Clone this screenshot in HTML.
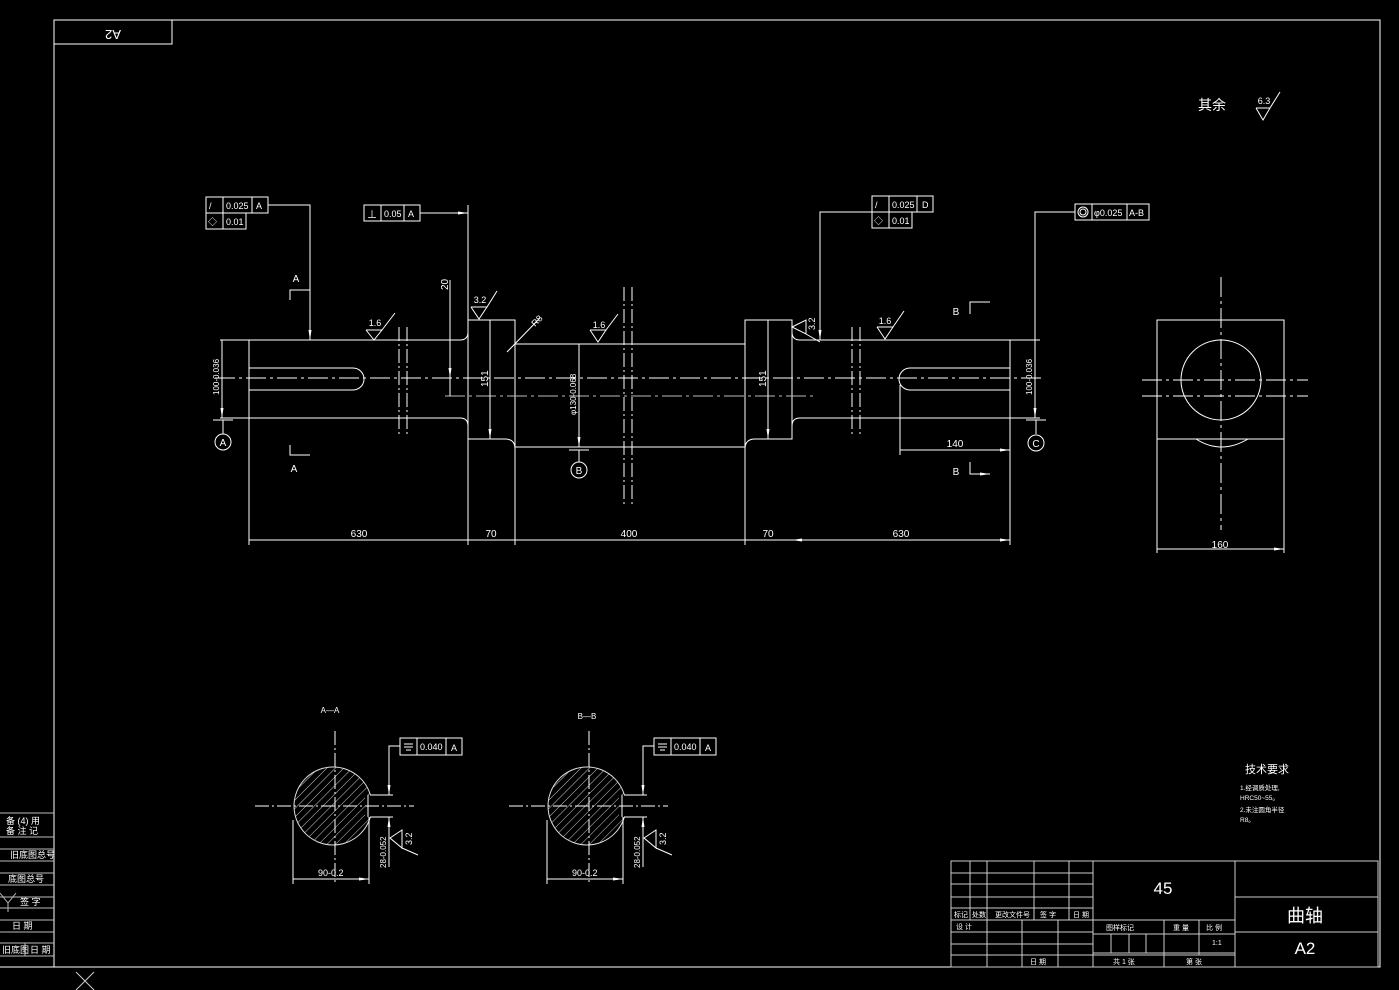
<!DOCTYPE html>
<html><head><meta charset="utf-8"><style>
html,body{margin:0;padding:0;background:#000;}
svg{display:block}
text{font-family:"Liberation Sans","Noto Sans CJK SC",sans-serif;fill:#fff;}
</style></head><body>
<svg width="1399" height="990" viewBox="0 0 1399 990" xmlns="http://www.w3.org/2000/svg">
<defs>
<marker id="ar" markerWidth="10" markerHeight="6" refX="10" refY="3" orient="auto" markerUnits="userSpaceOnUse"><path d="M0,1.5 L10,3 L0,4.5z" fill="#fff"/></marker>
<pattern id="hatch" width="6" height="6" patternUnits="userSpaceOnUse" patternTransform="rotate(45)"><line x1="0" y1="0" x2="0" y2="6" stroke="#ccc" stroke-width="1"/></pattern>
</defs>
<g stroke="#fff" stroke-width="1" fill="none">
<!-- frame -->
<path d="M54,20 H1380 V967 H0 M54,20 V967"/>
<rect x="54" y="20" width="118" height="24"/>
<!-- left strip -->
<path d="M0,813 H54 M0,837 H54 M0,849 H54 M0,861 H54 M0,873 H54 M0,885 H54 M0,897 H54 M0,908 H54 M0,920 H54 M0,932 H54 M0,943 H54 M0,956 H54 M25,943 V956" stroke="#bbb"/>
<path d="M0,893 L8,903 L16,893 M8,903 V912" stroke="#bbb"/>
<path d="M76,972 L94,990 M94,972 L76,990" stroke="#ccc"/>
</g>
<g font-size="9" fill="#fff">
<text x="6" y="824">备 (4) 用</text><text x="6" y="834">备 注 记</text>
<text x="10" y="858">旧底图总号</text><text x="8" y="882">底图总号</text>
<text x="20" y="905">签  字</text><text x="12" y="929">日    期</text>
<text x="2" y="953">旧底图</text><text x="30" y="953">日 期</text>
</g>
<text x="113" y="40" font-size="13" transform="rotate(180 113 35)" text-anchor="middle">A2</text>

<!-- main shaft -->
<g stroke="#fff" stroke-width="1" fill="none">
<path d="M220,340 H460 Q468,340 468,332 M220,418 H460 Q468,418 468,426"/>
<path d="M249,340 V545"/>
<path d="M249,368 H353 A11,11 0 0 1 353,390 H249"/>
<path d="M468,205 V545"/>
<path d="M468,320 H515 V545 M468,439 H505 Q515,439 515,449"/>
<path d="M515,344 H745 M515,447 H745"/>
<path d="M745,545 V320 H792 V439 H755 Q745,439 745,449 M745,320 V545"/>
<path d="M792,332 Q792,340 800,340 H1040 M792,426 Q792,418 800,418 H1040"/>
<path d="M1010,340 V545"/>
<path d="M1010,368 H910 A11,11 0 0 0 910,390 H1010"/>
<path d="M900,385 V455"/>
<!-- breaks -->
<path d="M399,327 V437 M407,327 V437 M852,327 V437 M860,327 V437 M624,287 V505 M632,287 V505" stroke-dasharray="14,3,2,3"/>
<!-- centerlines -->
<path d="M215,378 H1045" stroke-dasharray="20,4,3,4"/>
<path d="M445,396 H815" stroke-dasharray="20,4,3,4" stroke="#bbb"/>
<!-- dims -->
<path d="M249,540 H468 M468,540 H515 M515,540 H745 M745,540 H792 M792,540 H1010" marker-end="url(#ar)"/>
<path d="M468,540 H249 M515,540 H468 M745,540 H515 M792,540 H745 M1010,540 H792" marker-end="url(#ar)"/>
<path d="M222,379 V340 M222,379 V418" marker-end="url(#ar)"/>
<path d="M1035,379 V340 M1035,379 V418" marker-end="url(#ar)"/>
<path d="M579,396 V344 M579,396 V447" marker-end="url(#ar)"/>
<path d="M490,380 V320 M490,380 V439" marker-end="url(#ar)"/>
<path d="M768,380 V320 M768,380 V439" marker-end="url(#ar)"/>
<path d="M955,450 H900 M955,450 H1010" marker-end="url(#ar)"/>
<path d="M450,280 V395 M450,350 V396" />
<path d="M450,365 V378" marker-end="url(#ar)"/>
<!-- datums -->
<path d="M213,420 H233 M223,420 V434 M1026,420 H1046 M1036,420 V434 M569,450 H589 M579,450 V462"/>
<circle cx="223" cy="442" r="8"/><circle cx="1036" cy="443" r="8"/><circle cx="579" cy="470" r="8"/>
<!-- section marks -->
<path d="M290,300 V290 H298 M290,445 V455 H298 M970,314 V302 H978 M970,462 V474 H978"/>
<path d="M298,290 H310 M298,455 H310 M978,302 H990 M978,474 H990" marker-end="url(#ar)"/>
<!-- FCFs -->
<rect x="206" y="197" width="62" height="16"/><path d="M223,197 V229 M252,197 V213 M206,213 V229 H246 V213"/>
<path d="M268,205 H310 V340" /><path d="M310,320 V340" marker-end="url(#ar)"/>
<rect x="364" y="205" width="56" height="16"/><path d="M381,205 V221 M404,205 V221"/>
<path d="M420,213 H468" marker-end="url(#ar)"/>
<rect x="872" y="196" width="61" height="16"/><path d="M889,196 V228 M917,196 V212 M872,212 V228 H912 V212"/>
<path d="M872,212 H820 V340"/><path d="M820,325 V340" marker-end="url(#ar)"/>
<rect x="1075" y="204" width="74" height="16"/><path d="M1092,204 V220 M1127,204 V220"/>
<circle cx="1083" cy="212" r="5"/><circle cx="1083" cy="212" r="3"/>
<path d="M1075,212 H1035 V340"/>
<!-- roughness -->
<path d="M366,330 L374,340 L382,330 H366 M382,330 L395,313"/>
<path d="M590,330 L598,342 L606,330 H590 M606,330 L618,314"/>
<path d="M877,327 L885,339 L893,327 H877 M893,327 L904,311"/>
<path d="M471,307 L479,319 L487,307 H471 M487,307 L497,291"/>
<path d="M792,327 L806,320 L806,334 Z M806,334 L820,342"/>
<path d="M507,352 L540,318"/>
<path d="M1256,108 L1263,120 L1270,108 H1256 M1270,108 L1280,92"/>
<!-- side view -->
<rect x="1157" y="320" width="127" height="119"/>
<path d="M1157,439 V553 M1284,439 V553"/>
<circle cx="1221" cy="380" r="40"/>
<path d="M1196,439 Q1221,455 1248,439"/>
<path d="M1142,380 H1308 M1142,396 H1308" stroke-dasharray="20,4,3,4"/>
<path d="M1221,277 V530" stroke-dasharray="20,4,3,4"/>
<path d="M1220,549 H1157 M1220,549 H1284" marker-end="url(#ar)"/>
</g>
<g font-size="10">
<text x="359" y="537" text-anchor="middle">630</text><text x="491" y="537" text-anchor="middle">70</text>
<text x="629" y="537" text-anchor="middle">400</text><text x="768" y="537" text-anchor="middle">70</text>
<text x="901" y="537" text-anchor="middle">630</text><text x="955" y="447" text-anchor="middle">140</text>
<text x="1220" y="548" text-anchor="middle">160</text>
<text x="296" y="282" text-anchor="middle">A</text><text x="294" y="472" text-anchor="middle">A</text>
<text x="956" y="315" text-anchor="middle">B</text><text x="956" y="475" text-anchor="middle">B</text>
<text x="223" y="446" text-anchor="middle">A</text><text x="1036" y="447" text-anchor="middle">C</text><text x="579" y="474" text-anchor="middle">B</text>
<text x="226" y="209" font-size="9">0.025</text><text x="256" y="209" font-size="9">A</text><text x="226" y="225" font-size="9">0.01</text>
<text x="209" y="209" font-size="9">/</text><text x="208" y="225" font-size="9">◇</text>
<text x="384" y="217" font-size="9">0.05</text><text x="408" y="217" font-size="9">A</text><text x="367" y="218">⊥</text>
<text x="892" y="208" font-size="9">0.025</text><text x="922" y="208" font-size="9">D</text><text x="892" y="224" font-size="9">0.01</text>
<text x="875" y="208" font-size="9">/</text><text x="874" y="224" font-size="9">◇</text>
<text x="1094" y="216" font-size="9">φ0.025</text><text x="1129" y="216" font-size="9">A-B</text>
<text x="375" y="326" font-size="9" text-anchor="middle">1.6</text><text x="599" y="328" font-size="9" text-anchor="middle">1.6</text>
<text x="885" y="324" font-size="9" text-anchor="middle">1.6</text><text x="480" y="303" font-size="9" text-anchor="middle">3.2</text>
<text x="1264" y="104" font-size="9" text-anchor="middle">6.3</text>
<text transform="translate(815,330) rotate(-90)" font-size="9">3.2</text>
<text transform="translate(535,327) rotate(-45)" font-size="9">R8</text>
<text transform="translate(219,395) rotate(-90)" font-size="8">100-0.036</text>
<text transform="translate(1032,395) rotate(-90)" font-size="8">100-0.036</text>
<text transform="translate(576,415) rotate(-90)" font-size="8">φ130-0.068</text>
<text transform="translate(488,387) rotate(-90)" font-size="10">151</text>
<text transform="translate(766,387) rotate(-90)" font-size="10">151</text>
<text transform="translate(448,290) rotate(-90)" font-size="10">20</text>
<text x="1198" y="110" font-size="14">其余</text>
<text x="1245" y="773" font-size="11">技术要求</text>
<g font-size="6.5" fill="#ccc"><text x="1240" y="790">1.经调质处理,</text><text x="1240" y="800">HRC50~55。</text><text x="1240" y="812">2.未注圆角半径</text><text x="1240" y="822">R8。</text></g>
</g>

<!-- sections -->
<g id="secA">
<circle cx="333" cy="806" r="39" fill="url(#hatch)" stroke="#ddd"/>
<rect x="365" y="795" width="28" height="22" fill="#000"/>
<g stroke="#fff" fill="none">
<path d="M370,795 H393 M370,817 H393 M368,795 V817"/>
<path d="M255,806 H414 M335,731 V882" stroke-dasharray="14,3,2,3"/>
<path d="M293,820 V884 M369,817 V884"/>
<path d="M331,879 H293 M331,879 H369" marker-end="url(#ar)"/>
<rect x="400" y="738" width="62" height="17"/><path d="M417,738 V755 M446,738 V755 M404,744 H413 M404,747 H413 M406,750 H411"/>
<path d="M400,746 H389 V795" marker-end="url(#ar)"/><path d="M389,840 V817" marker-end="url(#ar)"/>
<path d="M389,817 V867 M390,838 L402,830 V848 Z M402,848 L418,855"/>
</g>
<text x="420" y="750" font-size="9">0.040</text><text x="451" y="751" font-size="9">A</text>
<text x="318" y="876" font-size="9">90-0.2</text>
<text transform="translate(386,868) rotate(-90)" font-size="8">28-0.052</text>
<text transform="translate(412,845) rotate(-90)" font-size="9">3.2</text>
</g>
<text x="330" y="713" font-size="8" text-anchor="middle">A—A</text>
<use href="#secA" x="254" y="0"/>
<text x="587" y="719" font-size="8" text-anchor="middle">B—B</text>

<!-- title block -->
<g stroke="#ccc" fill="none">
<rect x="951" y="861" width="427" height="106"/>
<path d="M951,873 H1093 M951,884 H1093 M951,897 H1093 M951,908 H1093 M951,920 H1235 M951,932 H1093 M951,944 H1093 M951,955 H1235"/>
<path d="M970,861 V920 M1034,861 V920 M1069,861 V920 M987,861 V967 M1022,920 V967 M1058,920 V967 M1093,861 V967 M1235,861 V967"/>
<path d="M1093,934 H1235 M1164,920 V967 M1199,920 V955 M1111,934 V953 M1129,934 V953 M1146,934 V953 M1093,953 H1235"/>
<path d="M1235,897 H1378 M1235,932 H1378"/>
</g>
<g font-size="7" fill="#fff">
<text x="954" y="917">标记</text><text x="972" y="917">处数</text><text x="995" y="917">更改文件号</text><text x="1040" y="917">签 字</text><text x="1073" y="917">日 期</text>
<text x="956" y="929">设 计</text><text x="1030" y="964">日 期</text>
<text x="1106" y="930">图样标记</text><text x="1173" y="930">重 量</text><text x="1206" y="930">比 例</text>
<text x="1212" y="945">1:1</text><text x="1113" y="964">共 1 张</text><text x="1186" y="964">第 张</text>
</g>
<text x="1163" y="894" font-size="17" text-anchor="middle">45</text>
<text x="1305" y="922" font-size="18" text-anchor="middle">曲轴</text>
<text x="1305" y="954" font-size="17" text-anchor="middle">A2</text>
</svg>
</body></html>
